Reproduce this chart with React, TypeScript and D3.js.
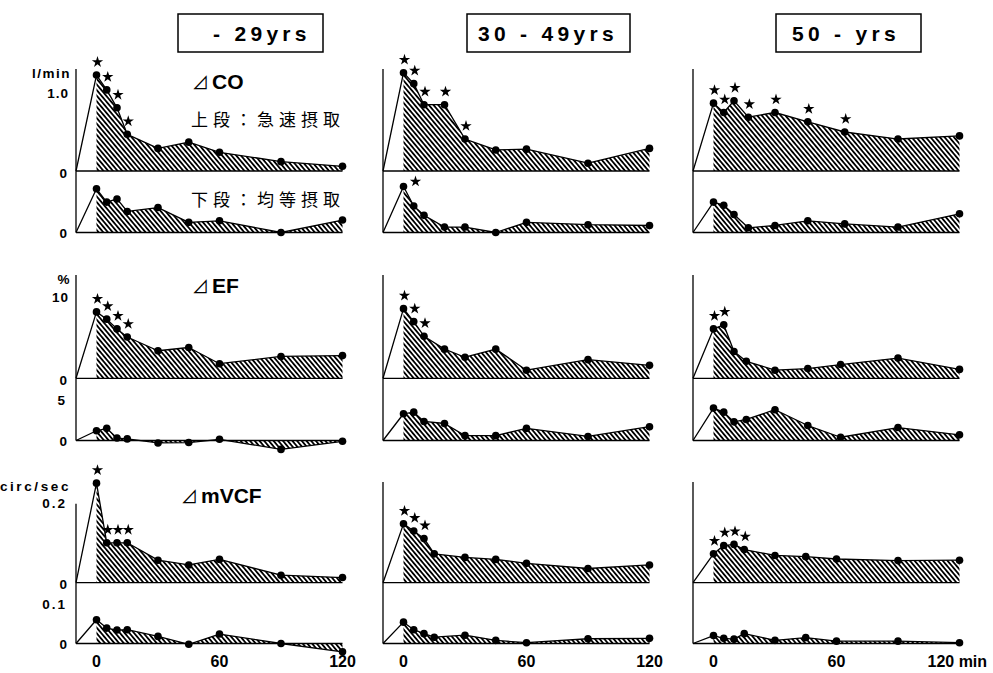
import React from "react";
import * as d3 from "d3";

// ---------- data ----------
const GROUPS = ["- 29yrs", "30 - 49yrs", "50 - yrs"];
const X_TICKS = [0, 60, 120];

const TIME = [0, 5, 10, 15, 30, 45, 60, 90, 120];
const TIME_MID = [0, 5, 10, 20, 30, 45, 60, 90, 120];
const TIME_R_CO = [0, 5, 10, 17, 30, 46, 64, 90, 120];
const TIME_R_EF = [0, 5, 10, 16, 30, 46, 62, 90, 120];

// ⊿CO (l/min) upper = rapid intake, lower = even intake
const CO_RAPID_Y = [1.23, 1.04, 0.81, 0.47, 0.29, 0.37, 0.24, 0.12, 0.06];
const CO_EVEN_Y = [0.56, 0.39, 0.43, 0.27, 0.32, 0.13, 0.15, 0.0, 0.16];
const CO_RAPID_M = [1.26, 1.12, 0.85, 0.85, 0.41, 0.27, 0.28, 0.1, 0.29];
const CO_EVEN_M = [0.59, 0.34, 0.22, 0.07, 0.07, 0.0, 0.13, 0.1, 0.09];
const CO_RAPID_O = [0.87, 0.75, 0.9, 0.69, 0.75, 0.63, 0.5, 0.41, 0.45];
const CO_EVEN_O = [0.39, 0.35, 0.23, 0.06, 0.09, 0.15, 0.11, 0.07, 0.24];

// ⊿EF (%)
const EF_RAPID_Y = [8.2, 7.3, 6.1, 5.1, 3.4, 3.8, 1.8, 2.7, 2.8];
const EF_EVEN_Y = [1.2, 1.5, 0.3, 0.2, -0.3, -0.25, 0.15, -1.1, -0.1];
const EF_RAPID_M = [8.6, 7.0, 5.2, 3.6, 2.6, 3.6, 1.0, 2.3, 1.6];
const EF_EVEN_M = [3.3, 3.5, 2.35, 2.1, 0.6, 0.6, 1.5, 0.5, 1.7];
const EF_RAPID_O = [6.1, 6.6, 3.3, 2.1, 1.0, 1.2, 1.7, 2.5, 1.1];
const EF_EVEN_O = [4.0, 3.5, 2.3, 2.6, 3.8, 1.85, 0.4, 1.6, 0.7];

// ⊿mVCF (circ/sec)
const VCF_RAPID_Y = [0.252, 0.101, 0.101, 0.101, 0.057, 0.045, 0.059, 0.019, 0.013];
const VCF_EVEN_Y = [0.06, 0.039, 0.034, 0.035, 0.018, -0.002, 0.024, 0.0, -0.021];
const VCF_RAPID_M = [0.149, 0.131, 0.112, 0.073, 0.064, 0.059, 0.049, 0.036, 0.045];
const VCF_EVEN_M = [0.054, 0.035, 0.025, 0.016, 0.021, 0.008, 0.002, 0.012, 0.013];
const VCF_RAPID_O = [0.073, 0.094, 0.097, 0.084, 0.069, 0.066, 0.06, 0.056, 0.057];
const VCF_EVEN_O = [0.02, 0.013, 0.011, 0.025, 0.008, 0.015, 0.006, 0.006, 0.002];

// significance stars (indices of time points)
const CO_STARS = [[0, 1, 2, 3], [0, 1, 2, 3, 4], [0, 1, 2, 3, 4, 5, 6]];
const CO_EVEN_STARS = [[], [0], []];
const EF_STARS = [[0, 1, 2, 3], [0, 1, 2], [0, 1]];
const VCF_STARS = [[0, 1, 2, 3], [0, 1, 2], [0, 1, 2, 3]];
const NO_STARS = [[], [], []];

const TITLES = ["⊿CO", "⊿EF", "⊿mVCF"];
const UNITS = ["l/min", "%", "circ/sec"];
const UPPER_TICKS = [[1.0, "1.0"], [10, "10"], [0.2, "0.2"]];
const LOWER_TICKS = [null, [5, "5"], [0.1, "0.1"]];
const NOTE_RAPID = "上段：急速摂取";
const NOTE_EVEN = "下段：均等摂取";

// ---------- layout ----------
const W = 993;
const H = 673;
const COL_X = [76, 383, 693];
const PX_PER_MIN = 2.05;
const ROWS = [
  { top: 69, upper: 171, lower: 232.5, k: 78 },
  { top: 275, upper: 378.3, lower: 440.5, k: 8.1 },
  { top: 482, upper: 582.7, lower: 643.5, k: 395 },
];
const BOXES = [
  { x: 178, w: 145, tx: 213 },
  { x: 467, w: 163, tx: 478 },
  { x: 776, w: 145, tx: 792 },
];

const NUM_FONT = "'Liberation Sans', Arial, Helvetica, sans-serif";
const JP_FONT = "'Noto Sans CJK JP', 'Noto Sans CJK SC', sans-serif";

const METRICS = [
  {
    rapid: [CO_RAPID_Y, CO_RAPID_M, CO_RAPID_O],
    even: [CO_EVEN_Y, CO_EVEN_M, CO_EVEN_O],
    times: [TIME, TIME_MID, TIME_R_CO],
    stars: CO_STARS,
    evenStars: CO_EVEN_STARS,
  },
  {
    rapid: [EF_RAPID_Y, EF_RAPID_M, EF_RAPID_O],
    even: [EF_EVEN_Y, EF_EVEN_M, EF_EVEN_O],
    times: [TIME, TIME_MID, TIME_R_EF],
    stars: EF_STARS,
    evenStars: NO_STARS,
  },
  {
    rapid: [VCF_RAPID_Y, VCF_RAPID_M, VCF_RAPID_O],
    even: [VCF_EVEN_Y, VCF_EVEN_M, VCF_EVEN_O],
    times: [TIME, TIME, TIME],
    stars: VCF_STARS,
    evenStars: NO_STARS,
  },
];

const starPath = d3.symbol(d3.symbolStar, 40)() as string;

function Series({ x, y, times, values, stars, side }) {
  const pts = times.map((t, i) => ({ t, v: values[i] }));
  const line = d3
    .line<any>()
    .x((d) => x(d.t))
    .y((d) => y(d.v));
  const area = d3
    .area<any>()
    .x((d) => x(d.t))
    .y0(y(0))
    .y1((d) => y(d.v));
  return (
    <g>
      <path d={area(pts) as string} fill="url(#hatch)" stroke="none" />
      <path
        d={line([{ t: -10, v: 0 }, ...pts]) as string}
        fill="none"
        stroke="#000"
        strokeWidth={1.3}
        strokeLinejoin="round"
      />
      {pts.map((p, i) => (
        <circle key={i} cx={x(p.t)} cy={y(p.v)} r={3.8} fill="#000" />
      ))}
      {stars.map((i) => {
        const p = pts[i];
        const sx = side ? x(p.t) + 12 : x(p.t) + 1;
        const sy = side ? y(p.v) - 5 : y(p.v) - 13;
        return <path key={"s" + i} d={starPath} transform={`translate(${sx},${sy})`} fill="#000" />;
      })}
    </g>
  );
}

function Panel({ m, c }) {
  const row = ROWS[m];
  const metric = METRICS[m];
  const cx = COL_X[c];
  const x = d3.scaleLinear().domain([-10, 120]).range([cx, cx + 130 * PX_PER_MIN]);
  const yU = d3.scaleLinear().domain([0, 1]).range([row.upper, row.upper - row.k]);
  const yL = d3.scaleLinear().domain([0, 1]).range([row.lower, row.lower - row.k]);
  const top = m === 2 && c === 0 ? yU(0.2) : row.top;
  return (
    <g>
      <line x1={cx} x2={cx} y1={top} y2={row.lower} stroke="#000" strokeWidth={1.3} />
      <line x1={cx} x2={x(120)} y1={yU(0)} y2={yU(0)} stroke="#000" strokeWidth={1.3} />
      <line x1={cx} x2={x(120)} y1={yL(0)} y2={yL(0)} stroke="#000" strokeWidth={1.3} />
      <Series
        x={x}
        y={yU}
        times={metric.times[c]}
        values={metric.rapid[c]}
        stars={metric.stars[c]}
        side={false}
      />
      <Series
        x={x}
        y={yL}
        times={metric.times[c]}
        values={metric.even[c]}
        stars={metric.evenStars[c]}
        side={true}
      />
      {c === 0 && (
        <g fontFamily={NUM_FONT} fontWeight="bold" fontSize={13.5} fill="#000" textAnchor="end">
          <text x={cx - 5} y={row.top + 4} dominantBaseline="central" letterSpacing={m === 2 ? 2.6 : 1.5}>
            {UNITS[m]}
          </text>
          {m !== 2 && (
            <text x={cx - 7} y={yU(UPPER_TICKS[m][0] as number)} dominantBaseline="central" letterSpacing={1}>
              {UPPER_TICKS[m][1]}
            </text>
          )}
          {m === 2 && (
            <text x={cx - 9} y={yU(UPPER_TICKS[m][0] as number)} dominantBaseline="central" letterSpacing={2}>
              {UPPER_TICKS[m][1]}
            </text>
          )}
          <text x={cx - 9} y={yU(0) + 2} dominantBaseline="central">0</text>
          {LOWER_TICKS[m] && (
            <text x={cx - 9} y={yL(LOWER_TICKS[m][0] as number)} dominantBaseline="central" letterSpacing={2}>
              {LOWER_TICKS[m][1]}
            </text>
          )}
          <text x={cx - 9} y={yL(0) + 1} dominantBaseline="central">0</text>
        </g>
      )}
      {m === 2 && (
        <g fontFamily={NUM_FONT} fontWeight="bold" fontSize={16} fill="#000">
          {X_TICKS.map((t) =>
            c === 2 && t === 120 ? (
              <text key={t} x={x(t) - 32} y={661} dominantBaseline="central" textAnchor="start">
                120 min
              </text>
            ) : (
              <text key={t} x={x(t)} y={661} dominantBaseline="central" textAnchor="middle">
                {t}
              </text>
            )
          )}
        </g>
      )}
    </g>
  );
}

export default function App() {
  return (
    <svg
      width={W}
      height={H}
      viewBox={`0 0 ${W} ${H}`}
      style={{ position: "absolute", left: 0, top: 0, background: "#fff" }}
    >
      <defs>
        <pattern
          id="hatch"
          patternUnits="userSpaceOnUse"
          width={3.6}
          height={10}
          patternTransform="rotate(-40)"
        >
          <line x1={1.8} y1={-1} x2={1.8} y2={11} stroke="#000" strokeWidth={1.8} />
        </pattern>
      </defs>
      <rect width={W} height={H} fill="#fff" />
      {BOXES.map((b, i) => (
        <g key={i}>
          <rect x={b.x} y={14} width={b.w} height={38} fill="#fff" stroke="#000" strokeWidth={1.5} />
          <text
            x={b.tx}
            y={33.5}
            dominantBaseline="central"
            fontFamily={NUM_FONT}
            fontWeight="bold"
            fontSize={21}
            letterSpacing={4.3}
            style={{ whiteSpace: "pre" }}
          >
            {GROUPS[i]}
          </text>
        </g>
      ))}
      {[0, 1, 2].map((m) => [0, 1, 2].map((c) => <Panel key={m + "-" + c} m={m} c={c} />))}
      <g fill="#000">
        <text x={192} y={81} dominantBaseline="central" fontFamily={NUM_FONT} fontSize={21} fontWeight="bold">
          <tspan fontFamily={JP_FONT} fontWeight="normal" fontSize={17}>⊿</tspan>
          <tspan dx={3}>{TITLES[0].slice(1)}</tspan>
        </text>
        <text x={192} y={285} dominantBaseline="central" fontFamily={NUM_FONT} fontSize={21} fontWeight="bold">
          <tspan fontFamily={JP_FONT} fontWeight="normal" fontSize={17}>⊿</tspan>
          <tspan dx={3}>{TITLES[1].slice(1)}</tspan>
        </text>
        <text x={181} y={495} dominantBaseline="central" fontFamily={NUM_FONT} fontSize={21} fontWeight="bold">
          <tspan fontFamily={JP_FONT} fontWeight="normal" fontSize={17}>⊿</tspan>
          <tspan dx={3}>{TITLES[2].slice(1)}</tspan>
        </text>
        <text x={191} y={118} dominantBaseline="central" fontFamily={JP_FONT} fontSize={17} letterSpacing={5}>
          {NOTE_RAPID}
        </text>
        <text x={191} y={198} dominantBaseline="central" fontFamily={JP_FONT} fontSize={17} letterSpacing={5}>
          {NOTE_EVEN}
        </text>
      </g>
    </svg>
  );
}
